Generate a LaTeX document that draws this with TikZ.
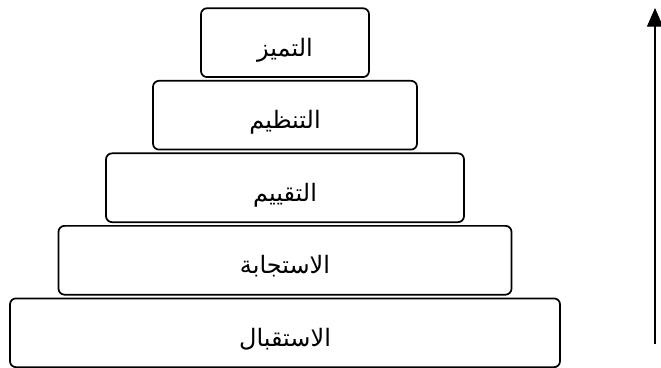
\documentclass[tikz,border=0pt]{standalone}
\usepackage{fontspec}
\newfontfamily\arabicfont[Script=Arabic]{DejaVu Sans}
\TeXXeTstate=1
\usepackage{tikz}
\usetikzlibrary{arrows.meta, positioning}
\tikzset{
  level/.style={rectangle, rounded corners=4.5pt, minimum height=51.6pt, text height=22pt, text depth=2pt, text centered, draw=black, line width=1.3pt, font=\arabicfont\fontsize{18}{20}\selectfont},
  uparrow/.style={line width=0.8pt, -{Triangle[width=12pt,length=14pt]}}
}
\begin{document}
\begin{tikzpicture}[node distance=1.5pt]
    \useasboundingbox (0,0) rectangle (495.75pt,-276pt);
    % Levels
    \node[level, minimum width=126pt] (excellence) at (213.75pt,-32pt) {\beginR التميز\endR};
    \node[level, minimum width=198pt, below=of excellence] (organisation) {\beginR التنظيم\endR};
    \node[level, minimum width=268.5pt, below=of organisation] (evaluation) {\beginR التقييم\endR};
    \node[level, minimum width=339.75pt, below=of evaluation] (response) {\beginR الاستجابة\endR};
    \node[level, minimum width=412.5pt, below=of response] (reception) {\beginR الاستقبال\endR};

    % Arrow
    \coordinate (low) at (491.25pt,-258pt);
    \coordinate (high) at (491.25pt,-6pt);
    \draw[uparrow] (low) -- (high);
\end{tikzpicture}
\end{document}
